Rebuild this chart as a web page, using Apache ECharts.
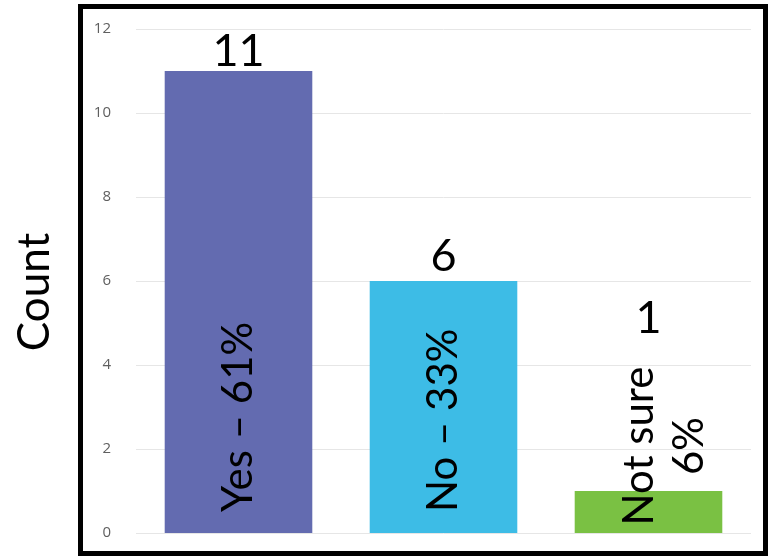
<!DOCTYPE html>
<html>
<head>
<meta charset="utf-8">
<script src="https://cdn.jsdelivr.net/npm/echarts@6/dist/echarts.min.js"></script>
<style>html,body{margin:0;padding:0;background:#fff}#c{width:769px;height:556px}</style>
</head>
<body>
<div id="c"></div>
<script>
var categories = ['Yes', 'No', 'Not sure'];
var counts = [11, 6, 1];
var innerLabels = ['Yes \u2013 61%', 'No \u2013 33%', 'Not sure\n6%'];
var barColors = ['#636BB0', '#3DBCE6', '#7AC143'];
var yTicks = [0, 2, 4, 6, 8, 10, 12];
var axisTitle = 'Count';

var font = 'Lato, "Open Sans", sans-serif';
var chart = echarts.init(document.getElementById('c'), null, {renderer: 'canvas'});

var mainData = counts.map(function (v, i) {
  var d = {
    value: v,
    itemStyle: {color: barColors[i]},
    label: {formatter: innerLabels[i]}
  };
  if (i === 2) {
    d.label = {
      formatter: innerLabels[i],
      position: [90, -45],
      align: 'center',
      verticalAlign: 'middle',
      lineHeight: 50
    };
  }
  return d;
});

var topDistances = [-3, 2, 150];
var topData = counts.map(function (v, i) {
  return {value: v, label: {distance: topDistances[i]}};
});

chart.setOption({
  animation: false,
  grid: {left: 136, right: 18, top: 29, bottom: 23},
  xAxis: {
    type: 'category',
    data: categories,
    axisLine: {show: false},
    axisTick: {show: false},
    axisLabel: {show: false}
  },
  yAxis: {
    type: 'value',
    min: yTicks[0],
    max: yTicks[yTicks.length - 1],
    interval: 2,
    axisLine: {show: false},
    axisTick: {show: false},
    axisLabel: {color: '#5f5f5f', fontSize: 15, fontFamily: '"Open Sans", sans-serif', margin: 25},
    splitLine: {lineStyle: {color: '#e6e6e6', width: 1}}
  },
  series: [
    {
      type: 'bar',
      data: mainData,
      barWidth: '72%',
      label: {
        show: true,
        position: 'insideBottom',
        distance: 21,
        rotate: 90,
        align: 'left',
        verticalAlign: 'middle',
        color: '#000',
        fontSize: 42,
        fontFamily: font
      }
    },
    {
      type: 'bar',
      data: topData,
      barWidth: '72%',
      barGap: '-100%',
      itemStyle: {color: 'rgba(0,0,0,0)'},
      silent: true,
      label: {
        show: true,
        position: 'top',
        color: '#000',
        fontSize: 45,
        fontFamily: font
      }
    }
  ],
  graphic: [
    {
      type: 'rect',
      shape: {x: 80.5, y: 6.5, width: 685, height: 547},
      style: {fill: 'none', stroke: '#000', lineWidth: 5},
      z: 100
    },
    {
      type: 'text',
      x: 35,
      y: 292,
      rotation: Math.PI / 2,
      style: {
        text: axisTitle,
        fill: '#000',
        font: '44px ' + font,
        align: 'center',
        verticalAlign: 'middle'
      }
    }
  ]
});
</script>
</body>
</html>
